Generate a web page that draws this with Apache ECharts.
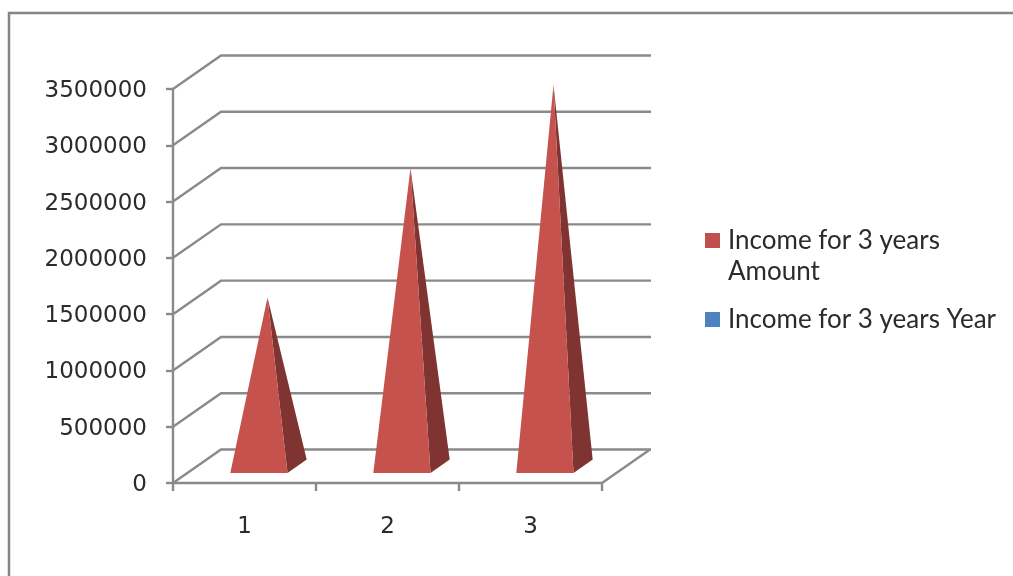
<!DOCTYPE html>
<html>
<head>
<meta charset="utf-8">
<style>html,body{margin:0;padding:0;background:#fff;overflow:hidden}#c{width:1013px;height:576px}</style>
<script src="https://cdn.jsdelivr.net/npm/echarts@6/dist/echarts.min.js"></script>
</head>
<body>
<div id="c"></div>
<script>
const categories = ['1', '2', '3'];
const amountValues = [1500000, 2650000, 3390000];
const yearValues = [0, 0, 0];
const yTicks = [0, 500000, 1000000, 1500000, 2000000, 2500000, 3000000, 3500000];
const amountName = 'Income for 3 years\nAmount';
const yearName = 'Income for 3 years Year';

const GREY = '#8a8a8a', TEXT = '#2b2b2b';
const DX = 48, DY = 33.5;

const chart = echarts.init(document.getElementById('c'), null, {renderer: 'canvas'});

function wallItem(params, api) {
  const cs = params.coordSys;
  const y = api.coord([0, api.value(1)])[1];
  const x0 = cs.x, x1 = cs.x + cs.width;
  const kids = [{
    type: 'polyline',
    shape: {points: [[x0, y], [x0 + DX, y - DY], [x1 + DX + 1, y - DY]]},
    style: {stroke: GREY, lineWidth: 2.4, fill: null}
  }];
  if (api.value(1) === 0) {
    kids.push({
      type: 'line',
      shape: {x1: x1, y1: y, x2: x1 + DX, y2: y - DY},
      style: {stroke: GREY, lineWidth: 2.4}
    });
  }
  return {type: 'group', children: kids};
}

function pyramidItem(params, api) {
  const v = api.value(1);
  if (!v) return null;
  const cat = api.value(0);
  const base = api.coord([cat, 0]);
  const top = api.coord([cat, v]);
  const halfW = api.size([1, 0])[0] * 0.2;
  const apex = [top[0] + DX / 2 - 1, top[1] - DY / 2];
  const cx = base[0] + DX / 2, cy = base[1] - DY / 2;
  const dx = DX * 0.2, dy = DY * 0.2;
  const fl = [cx - dx - halfW, cy + dy];
  const fr = [cx - dx + halfW, cy + dy];
  const br = [cx + dx + halfW, cy - dy];
  return {
    type: 'group',
    children: [
      {type: 'polygon', shape: {points: [fr, br, apex]}, style: {fill: '#7f3432'}},
      {type: 'polygon', shape: {points: [fl, fr, apex]}, style: {fill: '#c6524e'}}
    ]
  };
}

chart.setOption({
  animation: false,
  backgroundColor: '#ffffff',
  textStyle: {fontFamily: 'DejaVu Sans'},
  graphic: [{
    type: 'rect', silent: true, z: -1,
    shape: {x: 9, y: 13, width: 1100, height: 700},
    style: {fill: null, stroke: '#868686', lineWidth: 2.5}
  }],
  grid: {left: 173, top: 89, width: 429, height: 394},
  xAxis: {
    type: 'category',
    data: categories,
    boundaryGap: true,
    axisLine: {show: true, lineStyle: {color: GREY, width: 2.4}},
    axisTick: {show: true, alignWithLabel: false, length: 8, lineStyle: {color: GREY, width: 2.4}},
    axisLabel: {color: TEXT, fontSize: 23, margin: 33, fontFamily: 'DejaVu Sans'},
    splitLine: {show: false}
  },
  yAxis: {
    type: 'value',
    min: 0, max: 3500000, interval: 500000,
    axisLine: {show: true, lineStyle: {color: GREY, width: 2.4}},
    axisTick: {show: true, length: 7, lineStyle: {color: GREY, width: 2.4}},
    axisLabel: {
      color: TEXT, fontSize: 23, margin: 26, fontFamily: 'DejaVu Sans',
      formatter: v => '{n|' + v + '}',
      rich: {n: {color: TEXT, fontSize: 23, fontFamily: 'DejaVu Sans', padding: [4, 0, 0, 0]}}
    },
    splitLine: {show: false}
  },
  legend: [
    {
      orient: 'vertical', left: 705, top: 225, padding: 0,
      itemWidth: 15, itemHeight: 46,
      selectedMode: false,
      align: 'left',
      textStyle: {color: TEXT, fontSize: 26, lineHeight: 31, fontFamily: 'Lato', padding: [0, 0, 0, 3]},
      data: [{name: amountName, icon: 'path://M0,0H15V15H0Z M0,46L0,46Z'}]
    },
    {
      orient: 'vertical', left: 705, top: 304, padding: 0,
      itemWidth: 15, itemHeight: 15,
      selectedMode: false,
      align: 'left',
      textStyle: {color: TEXT, fontSize: 26, lineHeight: 31, fontFamily: 'Lato', padding: [0, 0, 0, 3]},
      data: [{name: yearName, icon: 'rect'}]
    }
  ],
  series: [
    {
      type: 'custom', name: 'walls', silent: true, z: 1,
      renderItem: wallItem,
      data: yTicks.map(t => [0, t])
    },
    {
      type: 'custom', name: amountName, z: 3, silent: true,
      itemStyle: {color: '#c0504d'},
      renderItem: pyramidItem,
      data: amountValues.map((v, i) => [i, v])
    },
    {
      type: 'custom', name: yearName, z: 2, silent: true,
      itemStyle: {color: '#4f81bd'},
      renderItem: pyramidItem,
      data: yearValues.map((v, i) => [i, v])
    }
  ]
});
</script>
</body>
</html>
